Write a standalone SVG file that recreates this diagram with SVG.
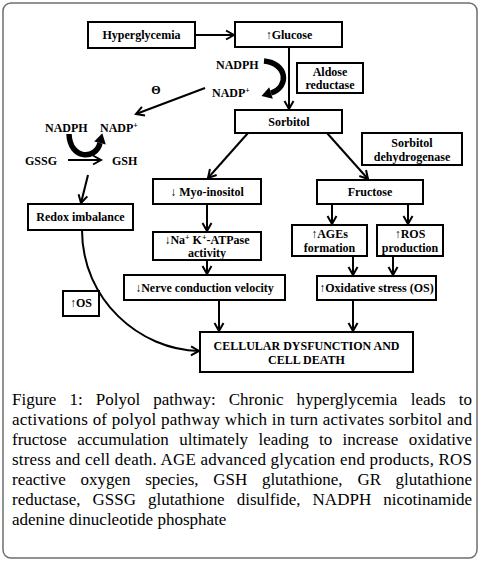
<svg xmlns="http://www.w3.org/2000/svg" width="480" height="561" viewBox="0 0 480 561">
<defs>
<style>
.box{fill:#fff;stroke:#000;stroke-width:2}
.t{font-family:"Liberation Serif","Times New Roman",serif;font-weight:bold;font-size:12px;fill:#000;text-anchor:middle}
.s{text-anchor:start}
.sup{font-size:8px}
.ln{fill:none;stroke:#000;stroke-width:2;marker-end:url(#ah)}
.thick{fill:none;stroke:#000;stroke-width:5.5}
.cap{font-family:"Liberation Serif","Times New Roman",serif;font-size:17px;fill:#000}
.e{text-anchor:end}
</style>
<marker id="ah" markerUnits="userSpaceOnUse" markerWidth="14" markerHeight="14" viewBox="-11 -7 13 14" refX="0" refY="0" orient="auto">
<path d="M-8,-4.5 L0,0 L-8,4.5" fill="none" stroke="#000" stroke-width="2" stroke-linejoin="miter"/>
</marker>
</defs>
<rect x="3" y="3" width="474" height="555" rx="8" ry="8" fill="#fff" stroke="#6e6e6e" stroke-width="1.5"/>

<g id="connectors">
<path class="ln" d="M195,35 L234,35"/>
<path class="ln" d="M289,47 L289,109"/>
<path class="ln" d="M248,133 L208,178"/>
<path class="ln" d="M327,133 L368,179"/>
<path class="ln" d="M207,204 L207,231"/>
<path class="ln" d="M207,260 L207,274"/>
<path class="ln" d="M219,300 L219,331"/>
<path class="ln" d="M332,204 L332,224"/>
<path class="ln" d="M408,204 L408,224"/>
<path class="ln" d="M353,256 L353,275"/>
<path class="ln" d="M393,256 L393,275"/>
<path class="ln" d="M353,300 L353,331"/>
<path class="ln" d="M205,88 L136,114"/>
<path class="ln" d="M68,160 L101,160"/>
<path class="ln" d="M88,175 L81,203"/>
<path class="ln" d="M82,230 C82,300 140,350 199,351"/>
<path class="thick" d="M264,61 C287,63 290,87 271,93"/>
<polygon points="261.5,96 272.8,98.7 269.2,87.3" fill="#000"/>
<path class="thick" d="M69,134 C70,160 96,160 100,143"/>
<polygon points="102.3,133.3 94.2,141.6 105.8,144.4" fill="#000"/>
</g>

<g id="hyperglycemia"><rect class="box" x="88" y="22" width="107" height="26"/><text class="t" x="141.5" y="39">Hyperglycemia</text></g>
<g id="glucose"><rect class="box" x="235" y="22" width="107" height="25"/><text class="t" x="289" y="39">↑Glucose</text></g>
<g id="aldose-reductase"><rect class="box" x="297" y="63" width="66" height="30"/><text class="t" x="330" y="76">Aldose</text><text class="t" x="330" y="89">reductase</text></g>
<g id="sorbitol"><rect class="box" x="235" y="110" width="107" height="23"/><text class="t" x="289" y="126">Sorbitol</text></g>
<g id="sorbitol-dehydrogenase"><rect class="box" x="362" y="133" width="100" height="32"/><text class="t" x="412" y="147">Sorbitol</text><text class="t" x="412" y="161">dehydrogenase</text></g>
<g id="nadph-right"><text class="t s" x="216" y="69">NADPH</text><text class="t s" x="212" y="97">NADP<tspan class="sup" dy="-4">+</tspan></text></g>
<g id="theta"><text class="t" x="156" y="94">Θ</text></g>
<g id="nadph-left"><text class="t s" x="45" y="132">NADPH</text><text class="t s" x="100" y="132">NADP<tspan class="sup" dy="-4">+</tspan></text></g>
<g id="gssg"><text class="t s" x="25" y="165">GSSG</text></g>
<g id="gsh"><text class="t s" x="112" y="165">GSH</text></g>
<g id="redox"><rect class="box" x="28" y="204" width="105" height="26"/><text class="t" x="80.5" y="221">Redox imbalance</text></g>
<g id="os"><rect class="box" x="63" y="291" width="36" height="25"/><text class="t" x="81" y="307">↑OS</text></g>
<g id="myo-inositol"><rect class="box" x="153" y="179" width="108" height="25"/><text class="t" x="207" y="196">↓ Myo-inositol</text></g>
<g id="na-k-atpase"><rect class="box" x="153" y="232" width="108" height="28"/><text class="t" x="207" y="244">↓Na<tspan class="sup" dy="-4">+</tspan><tspan dy="4"> K</tspan><tspan class="sup" dy="-4">+</tspan><tspan dy="4">-ATPase</tspan></text><text class="t" x="207" y="257">activity</text></g>
<g id="nerve"><rect class="box" x="124" y="275" width="161" height="25"/><text class="t" x="204.5" y="292">↓Nerve conduction velocity</text></g>
<g id="fructose"><rect class="box" x="317" y="180" width="106" height="24"/><text class="t" x="370" y="196">Fructose</text></g>
<g id="ages"><rect class="box" x="292" y="225" width="75" height="31"/><text class="t" x="329.5" y="238">↑AGEs</text><text class="t" x="329.5" y="252">formation</text></g>
<g id="ros"><rect class="box" x="377" y="225" width="66" height="31"/><text class="t" x="410" y="238">↑ROS</text><text class="t" x="410" y="252">production</text></g>
<g id="oxidative"><rect class="box" x="317" y="276" width="119" height="24"/><text class="t" x="376.5" y="292">↑Oxidative stress (OS)</text></g>
<g id="cellular"><rect class="box" x="200" y="332" width="213" height="40"/><text class="t" x="306.5" y="350">CELLULAR DYSFUNCTION AND</text><text class="t" x="306.5" y="364">CELL DEATH</text></g>

<g id="caption">
<text class="cap" y="405"><tspan x="12">Figure</tspan><tspan x="69.5">1:</tspan><tspan x="95.8">Polyol</tspan><tspan x="153.3">pathway:</tspan><tspan x="228.7">Chronic</tspan><tspan x="296.6">hyperglycemia</tspan><tspan x="410.7">leads</tspan></text>
<text class="cap e" x="472" y="405">to</text>
<text class="cap" x="12" y="425" textLength="460" lengthAdjust="spacing">activations of polyol pathway which in turn activates sorbitol and</text>
<text class="cap" y="445"><tspan x="12">fructose</tspan><tspan x="77.2">accumulation</tspan><tspan x="179.2">ultimately</tspan><tspan x="258.6">leading</tspan><tspan x="319">to</tspan><tspan x="342.6">increase</tspan></text>
<text class="cap e" x="472" y="445">oxidative</text>
<text class="cap" x="12" y="465" textLength="460" lengthAdjust="spacing">stress and cell death. AGE advanced glycation end products, ROS</text>
<text class="cap" y="485"><tspan x="12">reactive</tspan><tspan x="80.5">oxygen</tspan><tspan x="145.2">species,</tspan><tspan x="213.2">GSH</tspan><tspan x="261.9">glutathione,</tspan><tspan x="357.4">GR</tspan></text>
<text class="cap e" x="472" y="485">glutathione</text>
<text class="cap" y="505"><tspan x="12">reductase,</tspan><tspan x="92.5">GSSG</tspan><tspan x="148.1">glutathione</tspan><tspan x="236.7">disulfide,</tspan><tspan x="312.6">NADPH</tspan></text>
<text class="cap e" x="472" y="505">nicotinamide</text>
<text class="cap" x="12" y="525">adenine dinucleotide phosphate</text>
</g>
</svg>
